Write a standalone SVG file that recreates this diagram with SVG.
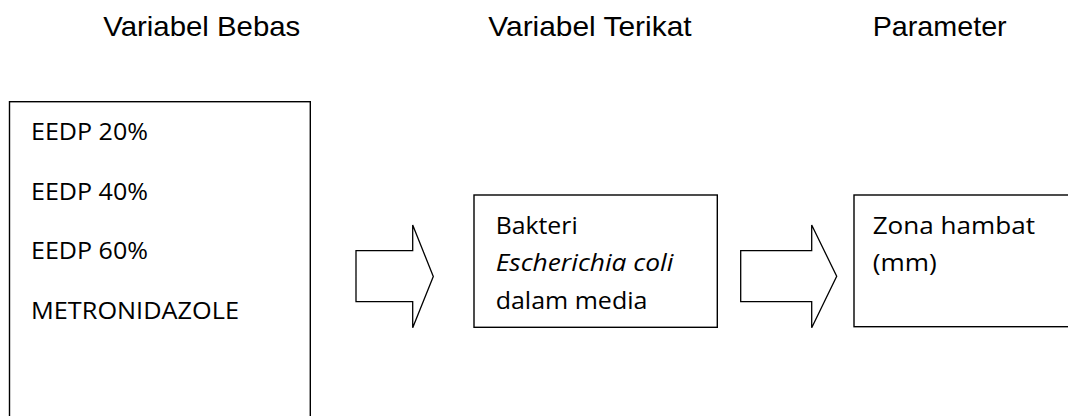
<svg xmlns="http://www.w3.org/2000/svg" width="1068" height="416" viewBox="0 0 1068 416">
<style>
.h{font-family:"Liberation Sans",Arial,sans-serif;font-size:28.3px;fill:#000}
.t{font-family:"Open Sans","Noto Sans",sans-serif;font-size:24.4px;fill:#000}
.i{font-style:italic}
.box{fill:#fff;stroke:#000;stroke-width:1.4}
.arr{fill:#fff;stroke:#000;stroke-width:1.3;stroke-linejoin:miter}
</style>
<rect width="1068" height="416" fill="#fff"/>
<g id="headers">
<text class="h" x="103.3" y="36" textLength="197" lengthAdjust="spacingAndGlyphs">Variabel Bebas</text>
<text class="h" x="488.3" y="36" textLength="203.3" lengthAdjust="spacingAndGlyphs">Variabel Terikat</text>
<text class="h" x="872.7" y="36" textLength="134" lengthAdjust="spacingAndGlyphs">Parameter</text>
</g>
<g id="node-bebas">
<rect class="box" x="9.5" y="101.7" width="300.8" height="330"/>
<text class="t" x="31" y="140" textLength="117" lengthAdjust="spacingAndGlyphs">EEDP 20%</text>
<text class="t" x="31" y="199.5" textLength="117" lengthAdjust="spacingAndGlyphs">EEDP 40%</text>
<text class="t" x="31" y="259.3" textLength="117" lengthAdjust="spacingAndGlyphs">EEDP 60%</text>
<text class="t" x="31" y="318.7" textLength="208" lengthAdjust="spacingAndGlyphs">METRONIDAZOLE</text>
</g>
<g id="node-terikat">
<rect class="box" x="474" y="195" width="243.3" height="132.3"/>
<text class="t" x="495.7" y="233.5" textLength="82" lengthAdjust="spacingAndGlyphs">Bakteri</text>
<text class="t i" x="495.7" y="271.3" textLength="177.7" lengthAdjust="spacingAndGlyphs">Escherichia coli</text>
<text class="t" x="495.7" y="309" textLength="151.7" lengthAdjust="spacingAndGlyphs">dalam media</text>
</g>
<g id="node-parameter">
<rect class="box" x="854" y="195" width="230" height="131.7"/>
<text class="t" x="872.7" y="233.5" textLength="162.3" lengthAdjust="spacingAndGlyphs">Zona hambat</text>
<text class="t" x="872.7" y="271.3" textLength="64" lengthAdjust="spacingAndGlyphs">(mm)</text>
</g>
<g id="connectors">
<path class="arr" d="M356,250.7 H412.7 V225 L433.3,276.5 L412.7,327.7 V301.7 H356 Z"/>
<path class="arr" d="M740.7,250.7 H811.7 V225 L836.7,276.3 L811.7,327.7 V301.7 H740.7 Z"/>
</g>
</svg>
